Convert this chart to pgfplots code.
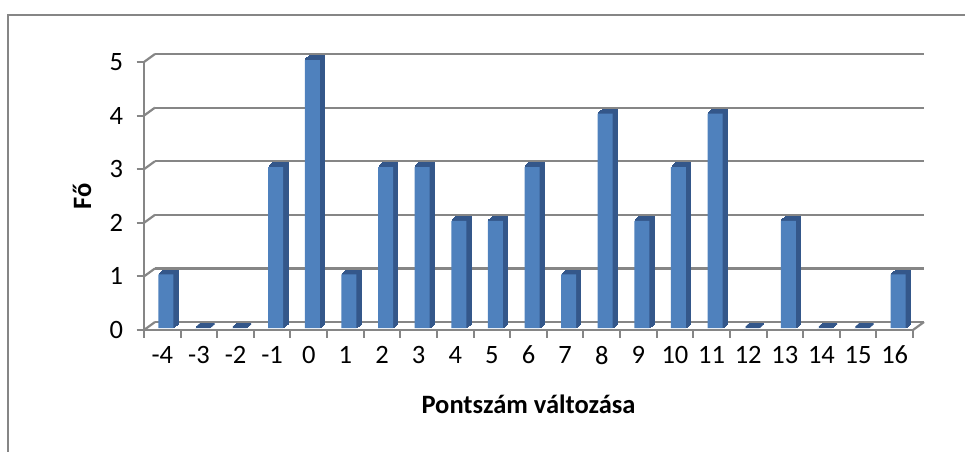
\documentclass[border=0pt]{standalone}
\usepackage{pgfplots}
\pgfplotsset{compat=1.18}
\usepackage{pgfplotstable}
\usepackage{fontspec}
\setmainfont{Carlito}
\definecolor{axgray}{HTML}{868686}
\definecolor{barfront}{HTML}{4F81BD}
\definecolor{barside}{HTML}{34578A}

\pgfplotstableread{
idx val
0 1
1 0
2 0
3 3
4 5
5 1
6 3
7 3
8 2
9 2
10 3
11 1
12 4
13 2
14 3
15 4
16 0
17 2
18 0
19 0
20 1
}\datatable

\pgfplotsset{
  common/.style={scale only axis, width=769pt, height=268pt,
    xmin=-0.5, xmax=20.5, ymin=0, ymax=5, clip=false},
  barlayer/.style={common, at={#1}, anchor=south west, hide axis},
}

\begin{document}
\begin{tikzpicture}[x=1pt,y=1pt]
\useasboundingbox (0,0) rectangle (965,451);
\clip (0,0) rectangle (965,451);
\draw[axgray, line width=2.2pt] (8,-20) rectangle (990,436);

% back wall gridlines
\begin{axis}[common, at={(155pt,129pt)}, anchor=south west,
  axis line style={draw=none}, xtick=\empty, ytick={0,...,5}, yticklabels={},
  major tick length=0pt, tick style={draw=none},
  ymajorgrids, grid style={axgray, line width=2.2pt}]
\addplot[draw=none] coordinates {(0,0)};
\end{axis}

% side and top faces (extruded layers, back to front)
\begin{axis}[barlayer={(152.1pt,127pt)}]
\addplot[ybar, bar width=15pt, bar shift=0pt, fill=barside, draw=barside, line width=1.5pt]
  table[x=idx,y=val]{\datatable};
\end{axis}
\begin{axis}[barlayer={(151pt,126pt)}]
\addplot[ybar, bar width=15pt, bar shift=0pt, fill=barside, draw=barside, line width=1.5pt]
  table[x=idx,y=val]{\datatable};
\end{axis}
\begin{axis}[barlayer={(149.9pt,125pt)}]
\addplot[ybar, bar width=15pt, bar shift=0pt, fill=barside, draw=barside, line width=1.5pt]
  table[x=idx,y=val]{\datatable};
\end{axis}
\begin{axis}[barlayer={(148.8pt,124pt)}]
\addplot[ybar, bar width=15pt, bar shift=0pt, fill=barside, draw=barside, line width=1.5pt]
  table[x=idx,y=val]{\datatable};
\end{axis}

% front faces
\begin{axis}[barlayer={(147.5pt,123pt)}]
\addplot[ybar, bar width=15pt, bar shift=0pt, fill=barfront, draw=none]
  table[x=idx,y=val]{\datatable};
\end{axis}

% front axis
\begin{axis}[common, at={(144pt,121pt)}, anchor=south west,
  axis x line*=bottom, axis y line*=left,
  axis line style={axgray, line width=2.2pt, -},
  xtick={-0.5,0.5,1.5,2.5,3.5,4.5,5.5,6.5,7.5,8.5,9.5,10.5,11.5,12.5,13.5,14.5,15.5,16.5,17.5,18.5,19.5,20.5},
  xticklabels={-4,-3,-2,-1,0,1,2,3,4,5,6,7,8,9,10,11,12,13,14,15,16,{}},
  ytick={0,...,5},
  tick align=outside, major tick length=7.5pt,
  tick style={axgray, line width=2pt},
  /pgf/number format/assume math mode=true,
  tick label style={font=\fontsize{26.5}{31}\selectfont, text=black},
  xticklabel style={xshift=18.3pt, yshift=-5pt},
  yticklabel style={xshift=-10pt},
  xlabel={Pontszám változása}, ylabel={Fő},
  label style={font=\fontsize{26.5}{31}\selectfont\bfseries},
  xlabel style={at={(axis description cs:0.5,-0.276)}, anchor=center},
  ylabel style={at={(axis description cs:-0.0806,0.5)}, anchor=center},
]
\addplot[draw=none] coordinates {(0,0)};
\pgfplotsinvokeforeach{0,...,5}{\draw[axgray, line width=2.2pt] (axis cs:-0.5,#1) -- ++(11pt,8pt);}
\draw[axgray, line width=2.2pt] (axis cs:20.5,0) -- ++(11pt,8pt);
\end{axis}
\end{tikzpicture}
\end{document}
